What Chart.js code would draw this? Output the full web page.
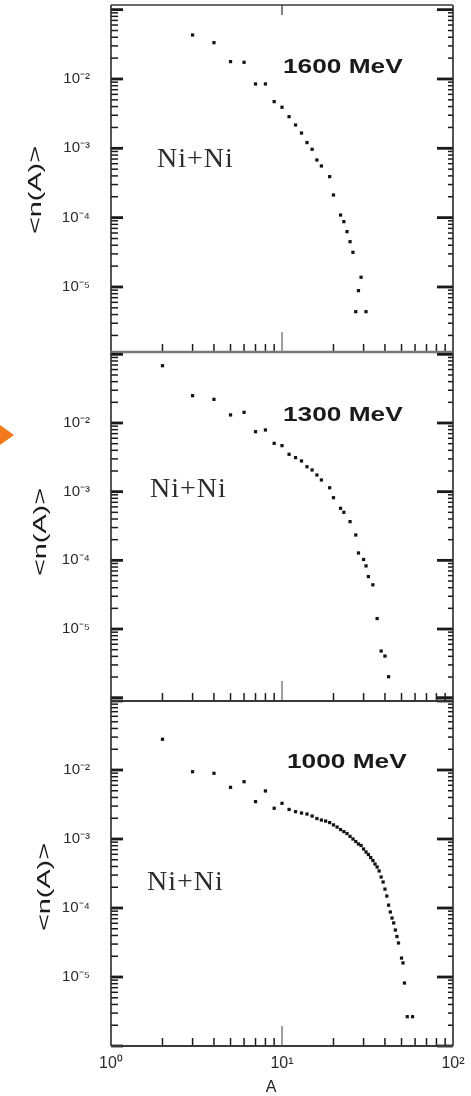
<!DOCTYPE html>
<html>
<head>
<meta charset="utf-8">
<script src="https://cdn.jsdelivr.net/npm/chart.js@4.4.1/dist/chart.umd.min.js"></script>
<style>
  html, body { margin: 0; padding: 0; background: #fff; }
  body { width: 471px; height: 1096px; position: relative; overflow: hidden; }
  canvas { position: absolute; left: 0; }
</style>
</head>
<body>
<canvas id="p1600" width="471" height="362" style="top:0px"></canvas>
<canvas id="p1300" width="471" height="369" style="top:342px"></canvas>
<canvas id="p1000" width="471" height="405" style="top:691px"></canvas>
<script>
// Mean fragment multiplicity <n(A)> versus mass number A, Ni+Ni collisions
const energyLabels = ['1600 MeV', '1300 MeV', '1000 MeV'];
const systemLabel = 'Ni+Ni';

const massA1600 = [3, 4, 5, 6, 7, 8, 9, 10, 11, 12, 13, 14, 15, 16, 17, 19, 20, 22, 23, 24, 25, 26, 27, 28, 29, 31];
const yield1600 = [0.0431, 0.0334, 0.0178, 0.0174, 0.00848, 0.00848, 0.00471, 0.00391, 0.00286, 0.00217,
                   0.00166, 0.00121, 0.000968, 0.000679, 0.000556, 0.00039, 0.000212, 0.000109, 8.75e-5, 6.28e-5,
                   4.5e-5, 3.16e-5, 4.4e-6, 8.85e-6, 1.38e-5, 4.4e-6];

const massA1300 = [2, 3, 4, 5, 6, 7, 8, 9, 10, 11, 12, 13, 14, 15, 16, 17, 19, 20, 22, 23, 25, 27, 28, 30, 31, 32, 34, 36, 38, 40, 42];
const yield1300 = [0.0683, 0.025, 0.0221, 0.0131, 0.0143, 0.00747, 0.00791, 0.00506, 0.00468, 0.0035,
                   0.00313, 0.0028, 0.00231, 0.00207, 0.00175, 0.00148, 0.00114, 0.000817, 0.000572, 0.000501,
                   0.000366, 0.000234, 0.000128, 0.000103, 8.3e-5, 5.8e-5, 4.4e-5, 1.42e-5, 4.78e-6, 4.04e-6, 2.02e-6];

const massA1000 = [2, 3, 4, 5, 6, 7, 8, 9, 10, 11, 12, 13, 14, 15, 16, 17, 18, 19, 20, 21, 22, 23, 24, 25, 26,
                   27, 28, 29, 30, 31, 32, 33, 34, 35, 36, 37, 38, 39, 40, 41, 42, 43, 44, 45, 46, 47, 48, 50, 51, 52, 54, 58];
const yield1000 = [0.0279, 0.00945, 0.00896, 0.00561, 0.00677, 0.00348, 0.00497, 0.00279, 0.00329, 0.00268,
                   0.00249, 0.00238, 0.0023, 0.00215, 0.00198, 0.00188, 0.00182, 0.00173, 0.0016, 0.00149,
                   0.00137, 0.00128, 0.0012, 0.00109, 0.001, 0.00092, 0.000847, 0.000805, 0.000716, 0.000648,
                   0.000596, 0.000539, 0.000488, 0.000434, 0.000393, 0.000344, 0.000281, 0.000238, 0.000188, 0.000149,
                   0.00011, 8.75e-5, 7.16e-5, 6.07e-5, 4.8e-5, 3.86e-5, 3.11e-5, 1.88e-5, 1.6e-5, 8.18e-6,
                   2.66e-6, 2.66e-6];

// Axis limits of each panel
const xMin = 1, xMax = 100;
const yMins = [1.153e-6, 8.95e-7, 1e-6];
const yMaxs = [0.1167, 0.1081, 0.1];

// Labelled ticks
const xTickValues = [1, 10, 100];
const xTickLabels = ['10\u2070', '10\u00b9', '10\u00b2'];
const yTickValues = [1e-2, 1e-3, 1e-4, 1e-5];
const yTickLabels = ['10\u207b\u00b2', '10\u207b\u00b3', '10\u207b\u2074', '10\u207b\u2075'];

Chart.defaults.font.family = '"Liberation Sans", Arial, Helvetica, sans-serif';

const SANS = '"Liberation Sans", Arial, Helvetica, sans-serif';
const SERIF = '"Liberation Serif", "Times New Roman", serif';

// Log-spaced tick values 1..9 x 10^k inside [lo, hi]
function logTicks(lo, hi) {
  const out = [];
  for (let k = Math.floor(Math.log10(lo)); k <= Math.ceil(Math.log10(hi)); k++) {
    for (let m = 1; m <= 9; m++) {
      const v = +(m * Math.pow(10, k)).toPrecision(6);
      if (v >= lo * 0.9999 && v <= hi * 1.0001) out.push(v);
    }
  }
  return out;
}
function isDecade(v) {
  const l = Math.log10(v);
  return Math.abs(l - Math.round(l)) < 1e-6;
}
function labelFor(v, values, labels) {
  const i = values.findIndex(t => Math.abs(Math.log10(t) - Math.log10(v)) < 1e-6);
  return i >= 0 ? labels[i] : '';
}

// Frame, inward tick marks and panel annotations
const panelFrame = {
  id: 'panelFrame',
  afterDatasetsDraw(chart, args, o) {
    const { ctx, chartArea: { left, right, top, bottom }, scales: { x, y } } = chart;
    const seg = (x1, y1, x2, y2) => { ctx.beginPath(); ctx.moveTo(x1, y1); ctx.lineTo(x2, y2); ctx.stroke(); };
    ctx.save();

    // y ticks on both sides, pointing inward
    ctx.strokeStyle = '#1a1a1a';
    for (const t of y.ticks) {
      const py = y.getPixelForValue(t.value);
      if (py < top || py > bottom) continue;
      const major = isDecade(t.value);
      ctx.lineWidth = major ? 2.8 : 1.5;
      seg(left, py, left + (major ? 12 : 7), py);
      seg(right, py, right - (major ? 16 : 5), py);
    }

    // x ticks along the bottom edge, pointing up
    for (const t of x.ticks) {
      if (t.value <= xMin || t.value >= xMax) continue;
      const px = x.getPixelForValue(t.value);
      const major = isDecade(t.value);
      ctx.strokeStyle = major ? '#a0a0a0' : '#1c1c1c';
      ctx.lineWidth = major ? 2 : 1.5;
      seg(px, bottom, px, bottom - (major ? 20 : 8));
    }
    if (o.topTick) {
      const px = x.getPixelForValue(10);
      ctx.strokeStyle = '#555';
      ctx.lineWidth = 1.5;
      seg(px, top, px, top + 10);
    }

    // box
    ctx.strokeStyle = '#2a2a2a';
    ctx.lineWidth = 1.6;
    seg(left, top, left, bottom);
    seg(right, top, right, bottom);
    ctx.strokeStyle = o.topColor;
    seg(left, top, right, top);
    ctx.strokeStyle = o.bottomColor;
    ctx.lineWidth = o.bottomWidth;
    seg(left, bottom, right, bottom);

    // beam energy (wide bold sans)
    ctx.save();
    ctx.translate(o.energyX, o.energyY);
    ctx.scale(1.25, 1);
    ctx.fillStyle = '#1a1a1a';
    ctx.font = 'bold 21px ' + SANS;
    ctx.textAlign = 'left';
    ctx.textBaseline = 'alphabetic';
    ctx.fillText(o.energy, 0, 0);
    ctx.restore();

    // colliding system
    ctx.font = '28px ' + SERIF;
    ctx.letterSpacing = '1px';
    ctx.fillStyle = '#2c2c2c';
    ctx.textAlign = 'left';
    ctx.textBaseline = 'alphabetic';
    ctx.fillText(systemLabel, o.systemX, o.systemY);
    ctx.letterSpacing = '0px';

    // y-axis title, rotated
    ctx.save();
    ctx.translate(o.titleX, o.titleY);
    ctx.rotate(-Math.PI / 2);
    ctx.scale(1.6, 1);
    ctx.font = '18px ' + SANS;
    ctx.textAlign = 'center';
    ctx.textBaseline = 'middle';
    ctx.fillStyle = '#1a1a1a';
    ctx.fillText('<n(A)>', 0, 0);
    ctx.restore();

    // x-axis title
    if (o.xTitle) {
      ctx.font = '16px ' + SANS;
      ctx.textAlign = 'center';
      ctx.textBaseline = 'middle';
      ctx.fillStyle = '#222';
      ctx.fillText(o.xTitle, o.xTitleX, o.xTitleY);
    }

    // orange pointer at the left margin
    if (o.pointer) {
      ctx.fillStyle = '#f27a1c';
      ctx.beginPath();
      ctx.moveTo(0, o.pointer - 10);
      ctx.lineTo(14, o.pointer);
      ctx.lineTo(0, o.pointer + 10);
      ctx.closePath();
      ctx.fill();
    }
    ctx.restore();
  }
};

function makePanel(id, i, massA, values, cfg) {
  return new Chart(document.getElementById(id), {
    type: 'scatter',
    data: {
      datasets: [{
        data: massA.map((a, k) => ({ x: a, y: values[k] })),
        pointStyle: 'rect',
        pointRadius: 2.3,
        backgroundColor: '#141414',
        borderWidth: 0
      }]
    },
    options: {
      responsive: false,
      devicePixelRatio: 1,
      animation: false,
      events: [],
      layout: { padding: { top: cfg.padTop, bottom: cfg.padBottom, left: 0, right: 18 } },
      plugins: {
        legend: { display: false },
        tooltip: { enabled: false },
        panelFrame: Object.assign({ energy: energyLabels[i] }, cfg.frame)
      },
      scales: {
        x: {
          type: 'logarithmic',
          min: xMin,
          max: xMax,
          display: cfg.showX,
          grid: { display: false },
          border: { display: false },
          afterBuildTicks: s => { s.ticks = logTicks(xMin, xMax).map(v => ({ value: v })); },
          afterFit: s => {
            if (cfg.showX) { s.height = 50; }
            s.paddingLeft = 0; s.paddingRight = 0;
          },
          ticks: {
            autoSkip: false,
            maxRotation: 0,
            padding: 0,
            color: '#2a2a2a',
            font: { size: 16 },
            callback: v => labelFor(v, xTickValues, xTickLabels)
          }
        },
        y: {
          type: 'logarithmic',
          min: yMins[i],
          max: yMaxs[i],
          grid: { display: false },
          border: { display: false },
          afterBuildTicks: s => { s.ticks = logTicks(yMins[i], yMaxs[i]).map(v => ({ value: v })); },
          afterFit: s => { s.width = 111; s.paddingTop = 0; s.paddingBottom = 0; },
          ticks: {
            autoSkip: false,
            padding: 13,
            color: '#2a2a2a',
            font: { size: 15 },
            callback: v => labelFor(v, yTickValues, yTickLabels)
          }
        }
      }
    },
    plugins: [panelFrame]
  });
}

makePanel('p1600', 0, massA1600, yield1600, {
  padTop: 5, padBottom: 10, showX: false,
  frame: { energyX: 283, energyY: 73, systemX: 157, systemY: 167, titleX: 36, titleY: 190,
           topTick: true, topColor: '#3a3a3a', bottomColor: '#7a7a7a', bottomWidth: 2.4 }
});
makePanel('p1300', 1, massA1300, yield1300, {
  padTop: 10, padBottom: 10, showX: false,
  frame: { energyX: 283, energyY: 79, systemX: 150, systemY: 155, titleX: 41, titleY: 190,
           topColor: '#7a7a7a', bottomColor: '#3a3a3a', bottomWidth: 2.2, pointer: 93 }
});
makePanel('p1000', 2, massA1000, yield1000, {
  padTop: 10, padBottom: 0, showX: true,
  frame: { energyX: 287, energyY: 77, systemX: 147, systemY: 199, titleX: 45, titleY: 196,
           topColor: '#3a3a3a', bottomColor: '#3a3a3a', bottomWidth: 2,
           xTitle: 'A', xTitleX: 271, xTitleY: 397 }
});
</script>
</body>
</html>
